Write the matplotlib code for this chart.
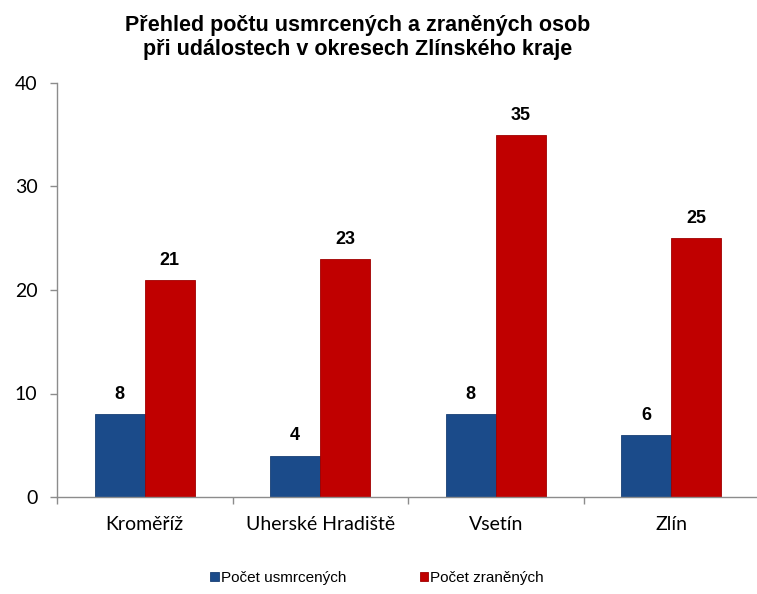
import numpy as np
import matplotlib.pyplot as plt

districts = ['Kroměříž', 'Uherské Hradiště', 'Vsetín', 'Zlín']
killed = [8, 4, 8, 6]
injured = [21, 23, 35, 25]
series_names = ['Počet usmrcených', 'Počet zraněných']

blue = '#1B4B8A'
red = '#C00000'
axis_gray = '#8C8C8C'

fig = plt.figure(figsize=(7.57, 5.94), dpi=100)
ax = fig.add_axes([57 / 757, 97 / 594, 702 / 757, 414 / 594])

x = np.arange(len(districts))
w = 0.286
b1 = ax.bar(x - w / 2, killed, w, color=blue, edgecolor='#173F75', linewidth=0.6, label=series_names[0])
b2 = ax.bar(x + w / 2, injured, w, color=red, edgecolor='#A00000', linewidth=0.6, label=series_names[1])

for bars, vals in ((b1, killed), (b2, injured)):
    for rect, v in zip(bars, vals):
        ax.annotate(str(v), (rect.get_x() + rect.get_width() / 2, v),
                    xytext=(0, 8), textcoords='offset points', ha='center', va='bottom',
                    fontsize=13, fontweight='bold', family='Liberation Sans')

ax.set_xlim(-0.5, 3.5)
ax.set_ylim(0, 40)
ax.set_yticks([0, 10, 20, 30, 40])
ax.set_xticks(x)
ax.set_xticklabels(districts, family='Lato', fontsize=14)
ax.set_xticks(np.arange(-0.5, 4, 1), minor=True)
ax.tick_params(axis='x', which='major', length=0, pad=14)
ax.tick_params(axis='x', which='minor', length=5, color=axis_gray, width=1)
ax.tick_params(axis='y', length=5, color=axis_gray, width=1, pad=9, labelsize=14)
for lab in ax.get_yticklabels():
    lab.set_family('Lato')

for s in ('top', 'right'):
    ax.spines[s].set_visible(False)
for s in ('left', 'bottom'):
    ax.spines[s].set_color(axis_gray)
    ax.spines[s].set_linewidth(1)

fig.text(358 / 757, 1 - 15 / 594,
         'Přehled počtu usmrcených a zraněných osob\npři událostech v okresech Zlínského kraje',
         ha='center', va='top', fontsize=15.5, fontweight='bold', family='Liberation Sans',
         linespacing=1.2)

fig.legend(handles=[b1, b2], labels=series_names, loc='center', bbox_to_anchor=(377 / 757, 1 - 578 / 594),
           ncol=2, frameon=False, prop={'family': 'Liberation Sans', 'size': 11},
           handlelength=0.55, handleheight=0.55, handletextpad=0.15, columnspacing=4.8)

fig.savefig('out.png', dpi=100)
